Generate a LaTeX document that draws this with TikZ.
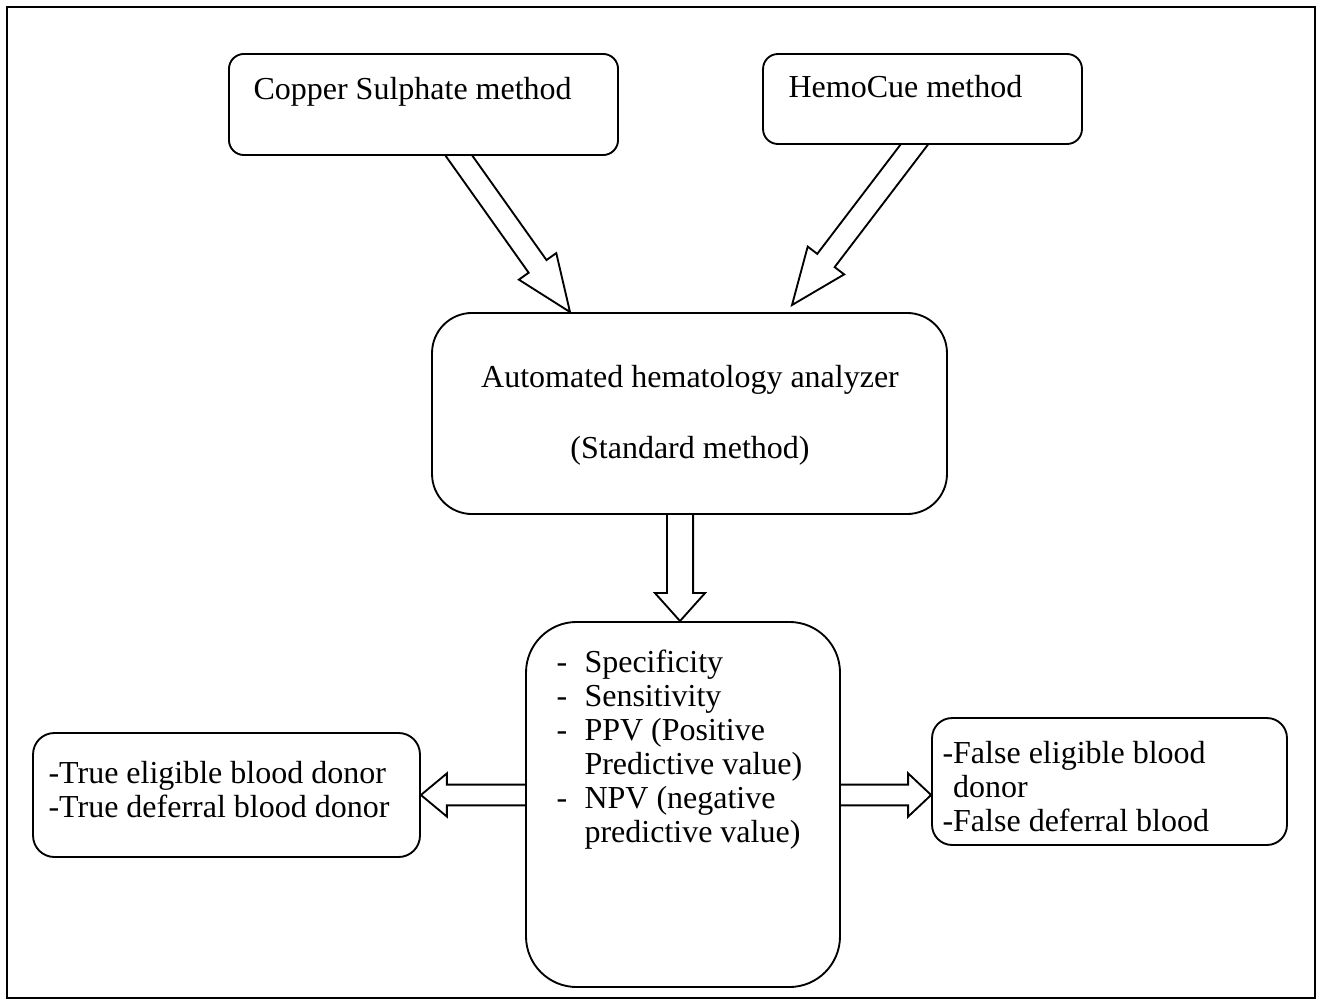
\documentclass[tikz,border=0pt]{standalone}
\usepackage{fontspec}
\setmainfont{Liberation Serif}
\usetikzlibrary{calc,backgrounds}

\tikzset{
  box/.style={draw, line width=0.7pt, fill=white, rounded corners=#1, inner sep=0pt},
  box/.default=6pt,
  txt/.style={inner sep=0pt, font=\fontsize{12}{12.75}\selectfont},
  % hollow block arrow: shaft half width, head half width, head length
  hollow/.style n args={3}{line width=0.7pt, fill=white, to path={
    ($(\tikztostart)!#1!90:(\tikztotarget)$)
    -- ($(\tikztotarget)!#3!(\tikztostart)!#1!90:(\tikztotarget)$)
    -- ($(\tikztotarget)!#3!(\tikztostart)!#2!90:(\tikztotarget)$)
    -- (\tikztotarget)
    -- ($(\tikztotarget)!#3!(\tikztostart)!#2!-90:(\tikztotarget)$)
    -- ($(\tikztotarget)!#3!(\tikztostart)!#1!-90:(\tikztotarget)$)
    -- ($(\tikztostart)!#1!-90:(\tikztotarget)$) -- cycle}}
}

\begin{document}
\begin{tikzpicture}[x=0.375pt, y=-0.375pt]
\useasboundingbox (0,0) rectangle (1323,1004);
% outer frame
\draw[line width=1pt] (7,7) rectangle (1315,998);

% the two test methods
\node[box=5.6pt, minimum width=145.9pt, minimum height=37.9pt] (copper) at (423.5,104.5) {};
\node[txt, anchor=base west] (copper-txt) at (253,100) {Copper Sulphate method};
\node[box=5.6pt, minimum width=119.6pt, minimum height=33.75pt] (hemo) at (922.5,99) {};
\node[txt, anchor=base west] (hemo-txt) at (788,98) {HemoCue method};

% reference method
\node[box=15pt, minimum width=193.1pt, minimum height=75.4pt] (analyzer) at (689.5,413.5) {};
\node[txt, anchor=base] (analyzer-txt1) at (690,388) {Automated hematology analyzer};
\node[txt, anchor=base] (analyzer-txt2) at (690,458) {(Standard method)};

% measures of agreement
\node[box=19pt, minimum width=117.75pt, minimum height=136.9pt] (measures) at (683,804.5) {};
\node[txt, anchor=base west] (measures-txt) at (556,672) {%
  \begin{tabular}[t]{@{}p{10.5pt}@{}l@{}}
  - & Specificity\\
  - & Sensitivity\\
  - & PPV (Positive\\
    & Predictive value)\\
  - & NPV (negative\\
    & predictive value)
  \end{tabular}};

% outcomes
\node[box=8pt, minimum width=145.1pt, minimum height=46.5pt] (truebox) at (226.5,795) {};
\node[txt, anchor=base west] (truebox-txt) at (48,783) {%
  \begin{tabular}[t]{@{}l@{}}
  -True eligible blood donor\\
  -True deferral blood donor
  \end{tabular}};
\node[box=7.5pt, minimum width=133.1pt, minimum height=47.6pt] (falsebox) at (1109.5,781.5) {};
\node[txt, anchor=base west] (falsebox-txt) at (942,763) {%
  \begin{tabular}[t]{@{}l@{}}
  -False eligible blood\\
  \hspace*{4pt}donor\\
  -False deferral blood
  \end{tabular}};

% block arrows (behind the boxes)
\begin{pgfonlayer}{background}
\draw[hollow={4.1pt}{8.6pt}{21pt}] ($(copper.south)+(20,-22)$) to ($(analyzer.north)+(-119.5,0)$);
\draw[hollow={4.1pt}{8.6pt}{21pt}] ($(hemo.south)+(7.5,-21)$) to ($(analyzer.north)+(102.5,-7)$);
\draw[hollow={4.9pt}{9.4pt}{10.5pt}] ($(analyzer.south)+(-9.5,-15)$) to ($(measures.north)+(-3,0)$);
\draw[hollow={3.9pt}{8.1pt}{9.75pt}] ($(measures.west |- truebox.east)+(15,0)$) to (truebox.east);
\draw[hollow={3.9pt}{8.1pt}{8.6pt}] ($(measures.east)+(-15,-9.5)$) to ($(falsebox.west)+(0,13.5)$);
\end{pgfonlayer}
\end{tikzpicture}
\end{document}
